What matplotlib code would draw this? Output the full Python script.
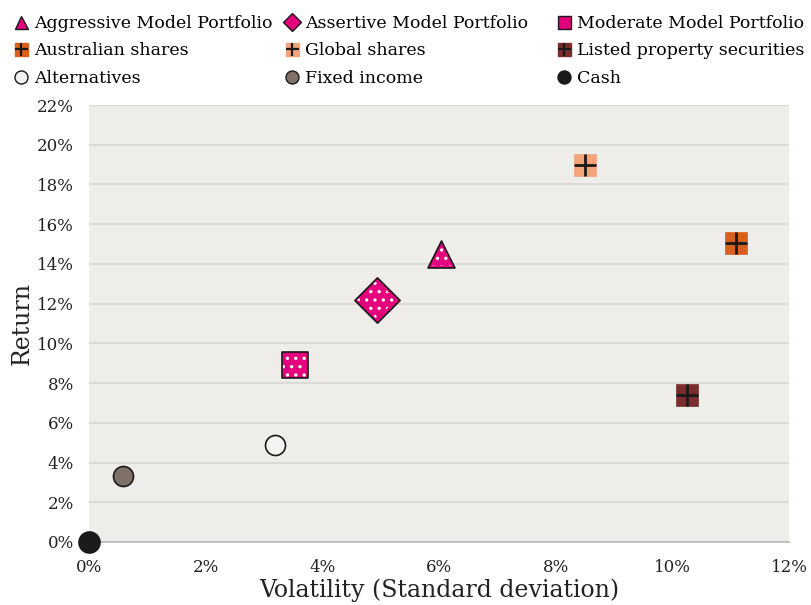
import matplotlib
matplotlib.use("Agg")
import matplotlib.pyplot as plt
from matplotlib.lines import Line2D
from matplotlib.ticker import FuncFormatter, MultipleLocator
from matplotlib.legend_handler import HandlerTuple

plt.rcParams['font.family'] = ['DejaVu Serif']
plt.rcParams['hatch.linewidth'] = 1.2

names = ["Aggressive Model Portfolio", "Assertive Model Portfolio", "Moderate Model Portfolio",
         "Australian shares", "Global shares", "Listed property securities",
         "Alternatives", "Fixed income", "Cash"]
volatility = [6.03, 4.93, 3.53, 11.1, 8.51, 10.26, 3.18, 0.58, 0.0]
returns = [14.5, 12.2, 8.9, 15.05, 19.0, 7.4, 4.9, 3.3, 0.0]

pink = "#E4007C"
colors = [pink, pink, pink, "#D95F1B", "#F4A478", "#7B2D2D", "#F3F3F1", "#7E7169", "#1B1B1B"]
markers = ["^", "D", "s", "s", "s", "s", "o", "o", "o"]
sizes = [27, 32, 27, 22, 22, 22, 20, 20, 21]  # marker sizes in px
plus = [False, False, False, True, True, True, False, False, False]
dotted = [True, True, True, False, False, False, False, False, False]

fig = plt.figure(figsize=(8.11, 6.05), dpi=100)
ax = fig.add_axes([89/811, 1-542/605, (789-89)/811, (542-105)/605])
ax.set_facecolor("#EEEDE9")
ax.set_xlim(0, 12)
ax.set_ylim(0, 22)
ax.xaxis.set_major_locator(MultipleLocator(2))
ax.yaxis.set_major_locator(MultipleLocator(2))
ax.xaxis.set_major_formatter(FuncFormatter(lambda v, p: f"{v:.0f}%"))
ax.yaxis.set_major_formatter(FuncFormatter(lambda v, p: f"{v:.0f}%"))
ax.grid(axis="y", color="#D9D8D4", linewidth=1.3)
ax.set_axisbelow(True)
for s in ["top", "right", "left"]:
    ax.spines[s].set_visible(False)
ax.spines["bottom"].set_color("#BDBDBD")
ax.spines["bottom"].set_linewidth(1.3)
ax.tick_params(length=0, labelsize=12, colors="#222222")
ax.tick_params(axis="x", pad=12)
ax.tick_params(axis="y", pad=11)
ax.set_xlabel("Volatility (Standard deviation)", fontsize=17, labelpad=2, color="#222222")
ax.set_ylabel("Return", fontsize=17, labelpad=2, color="#222222")

px = 72/100  # pixels -> points
for i in range(len(names)):
    ms = sizes[i] * px
    if markers[i] == "s" and plus[i]:
        ax.plot(volatility[i], returns[i], marker="s", ms=ms, mfc=colors[i], mec=colors[i],
                mew=0.5, ls="none", clip_on=False, zorder=3)
        ax.plot(volatility[i], returns[i], marker="+", ms=ms, mec="#1A1A1A", mew=2.0,
                ls="none", clip_on=False, zorder=4)
    else:
        ax.scatter(volatility[i], returns[i], marker=markers[i], s=ms**2, c=colors[i],
                   edgecolors="#1A1A1A", linewidths=1.2, clip_on=False, zorder=3)
        if dotted[i]:
            ax.scatter(volatility[i], returns[i], marker=markers[i], s=(ms*0.85)**2,
                       facecolors="none", edgecolors="white", hatch="..", linewidths=0,
                       clip_on=False, zorder=4)

def handle(i):
    ms = 13 * px
    if plus[i]:
        return (Line2D([], [], marker="s", ms=ms, mfc=colors[i], mec=colors[i], ls="none"),
                Line2D([], [], marker="+", ms=ms, mec="#1A1A1A", mew=1.6, ls="none"))
    return Line2D([], [], marker=markers[i], ms=ms * (0.95 if markers[i] == "D" else 1.0),
                  mfc=colors[i], mec="#1A1A1A", mew=1.0, ls="none")

col_x = [14/811, 285/811, 557/811]
for c in range(3):
    idx = [c, c + 3, c + 6]
    fig.legend([handle(i) for i in idx], [names[i] for i in idx],
               loc="upper left", bbox_to_anchor=(col_x[c], 1 - 15/605),
               frameon=False, fontsize=12.5, handlelength=0.75, handletextpad=0.4,
               labelspacing=0.6, borderpad=0.0, borderaxespad=0.0,
               handler_map={tuple: HandlerTuple(ndivide=1, pad=0)})

fig.savefig("out.png", dpi=100)
